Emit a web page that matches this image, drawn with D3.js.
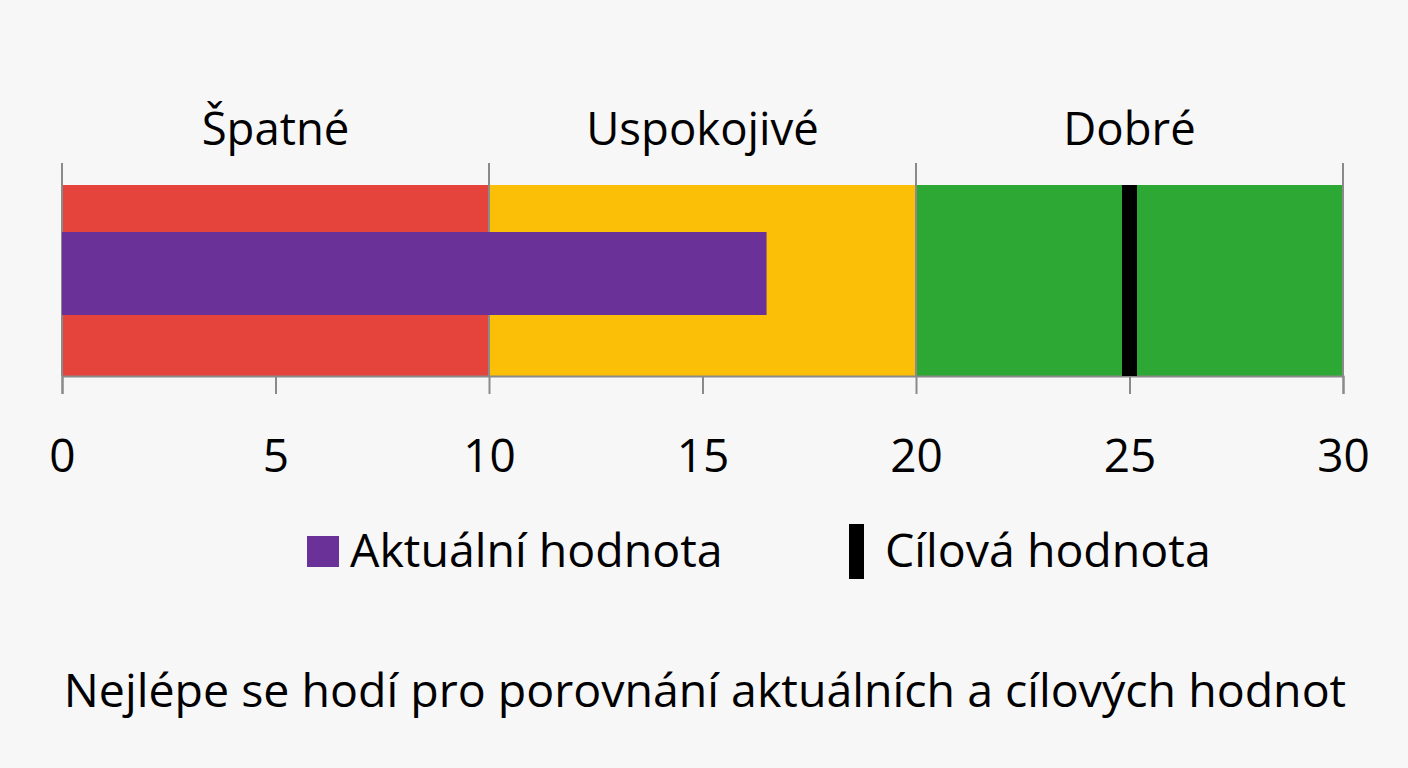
<!DOCTYPE html>
<html>
<head>
<meta charset="utf-8">
<script src="https://cdn.jsdelivr.net/npm/d3@7"></script>
<style>
  html, body { margin: 0; padding: 0; background: #f7f7f7; }
  svg { display: block; }
  text { font-family: "Open Sans", "Noto Sans", sans-serif; fill: #000; }
</style>
</head>
<body>
<svg id="chart" width="1408" height="768"></svg>
<script>
// ---- data ----
const rangeLabels = ["Špatné", "Uspokojivé", "Dobré"];
const rangeStarts = [0, 10, 20];
const rangeEnds = [10, 20, 30];
const rangeColors = ["#e5443d", "#fbbf07", "#2ea834"];
const actualValue = 16.5;
const targetValue = 25;
const tickValues = [0, 5, 10, 15, 20, 25, 30];
const legendLabels = ["Aktuální hodnota", "Cílová hodnota"];
const caption = "Nejlépe se hodí pro porovnání aktuálních a cílových hodnot";

// ---- layout ----
const W = 1408, H = 768;
const svg = d3.select("#chart");
svg.append("rect").attr("width", W).attr("height", H).attr("fill", "#f7f7f7");

const x = d3.scaleLinear().domain([0, 30]).range([62, 1343]);
const bandTop = 185, bandBottom = 376;
const y = d3.scaleLinear().domain([0, 1]).range([bandBottom, bandTop]);

// ranges
const ranges = rangeStarts.map((s, i) => ({s, e: rangeEnds[i], label: rangeLabels[i], color: rangeColors[i]}));
svg.append("g").selectAll("rect").data(ranges).join("rect")
  .attr("x", d => x(d.s)).attr("width", d => x(d.e) - x(d.s))
  .attr("y", y(1)).attr("height", y(0) - y(1))
  .attr("fill", d => d.color);

// range labels
svg.append("g").selectAll("text").data(ranges).join("text")
  .attr("x", d => x((d.s + d.e) / 2)).attr("y", 145)
  .attr("text-anchor", "middle").attr("font-size", 45.5)
  .text(d => d.label);

// gridlines at range boundaries (extend above)
const bounds = [0, 10, 20, 30];
svg.append("g").selectAll("line").data(bounds).join("line")
  .attr("x1", d => x(d)).attr("x2", d => x(d))
  .attr("y1", 163).attr("y2", bandBottom)
  .attr("stroke", "#8a8a8a").attr("stroke-width", 2);

// axis
const axis = d3.axisBottom(x).tickValues(tickValues).tickSize(18).tickPadding(0).tickFormat(d3.format("d"));
const gAxis = svg.append("g").attr("transform", `translate(0,${bandBottom})`).call(axis);
gAxis.select(".domain").attr("stroke", "#8a8a8a").attr("stroke-width", 2);
gAxis.selectAll(".tick line").attr("stroke", "#8a8a8a").attr("stroke-width", 2);
gAxis.selectAll(".tick text").attr("font-size", 46).attr("fill", "#000")
  .attr("font-family", "\"Open Sans\", \"Noto Sans\", sans-serif")
  .attr("dy", null).attr("y", 472 - bandBottom);

// actual bar
svg.append("rect")
  .attr("x", x(0)).attr("width", x(actualValue) - x(0))
  .attr("y", 232).attr("height", 83)
  .attr("fill", "#6a3199");

// target marker
svg.append("rect")
  .attr("x", x(targetValue) - 7.5).attr("width", 15)
  .attr("y", y(1)).attr("height", y(0) - y(1))
  .attr("fill", "#000");

// legend
const lg = svg.append("g");
lg.append("rect").attr("x", 307).attr("y", 536).attr("width", 32).attr("height", 31).attr("fill", "#6a3199");
lg.append("text").attr("x", 350).attr("y", 567).attr("font-size", 46.5).text(legendLabels[0]);
lg.append("rect").attr("x", 849).attr("y", 524).attr("width", 15).attr("height", 55).attr("fill", "#000");
lg.append("text").attr("x", 885).attr("y", 567).attr("font-size", 46.5).text(legendLabels[1]);

// caption
svg.append("text").attr("x", 705).attr("y", 707).attr("text-anchor", "middle")
  .attr("font-size", 46.5).text(caption);
</script>
</body>
</html>
